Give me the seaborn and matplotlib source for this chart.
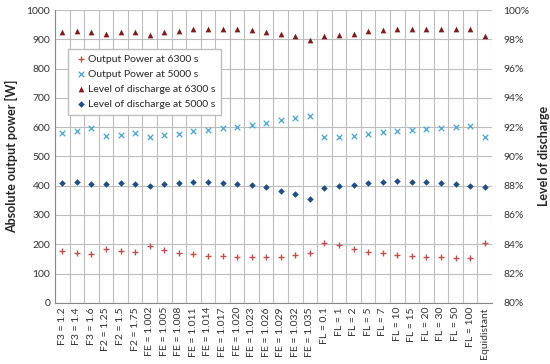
import numpy as np
import pandas as pd
import matplotlib
matplotlib.use("Agg")
import matplotlib.pyplot as plt
import seaborn as sns
from matplotlib.ticker import FixedLocator, FuncFormatter

# categories along the x axis
categories = ["F3 = 1.2", "F3 = 1.4", "F3 = 1.6", "F2 = 1.25", "F2 = 1.5", "F2 = 1.75",
              "FE = 1.002", "FE = 1.005", "FE = 1.008", "FE = 1.011", "FE = 1.014", "FE = 1.017",
              "FE = 1.020", "FE = 1.023", "FE = 1.026", "FE = 1.029", "FE = 1.032", "FE = 1.035",
              "FL = 0.1", "FL = 1", "FL = 2", "FL = 5", "FL = 7", "FL = 10", "FL = 15",
              "FL = 20", "FL = 30", "FL = 50", "FL = 100", "Equidistant"]

# absolute output power [W]
power_6300 = [176, 169, 166, 185, 178, 174, 195, 180, 171, 166, 160, 160, 158, 155, 155,
              158, 163, 169, 205, 196, 185, 174, 169, 163, 161, 158, 155, 152, 153, 205]
power_5000 = [580, 588, 596, 571, 573, 581, 565, 573, 578, 586, 589, 598, 602, 607, 615,
              623, 630, 638, 565, 565, 570, 577, 582, 588, 591, 592, 597, 601, 605, 565]

# level of discharge [%]
lod_6300 = [98.47, 98.59, 98.52, 98.38, 98.47, 98.50, 98.29, 98.47, 98.59, 98.70, 98.70,
            98.70, 98.70, 98.66, 98.50, 98.34, 98.20, 97.95, 98.20, 98.29, 98.38, 98.60,
            98.66, 98.70, 98.72, 98.72, 98.72, 98.72, 98.70, 98.22]
lod_5000 = [88.18, 88.24, 88.13, 88.10, 88.20, 88.15, 87.97, 88.10, 88.20, 88.27, 88.27,
            88.20, 88.15, 88.04, 87.88, 87.65, 87.42, 87.10, 87.86, 87.97, 88.06, 88.18,
            88.22, 88.29, 88.24, 88.22, 88.18, 88.10, 88.01, 87.88]

df = pd.DataFrame({"cat": categories, "p6300": power_6300, "p5000": power_5000,
                   "l6300": lod_6300, "l5000": lod_5000})

sns.set_style("white")
plt.rcParams["font.family"] = ["Lato", "DejaVu Sans"]

fig = plt.figure(figsize=(5.5, 3.64), dpi=100)
ax = fig.add_axes([0.1, 0.168, 0.7945, 0.8045])
ax2 = ax.twinx()

sns.scatterplot(data=df, x="cat", y="p6300", ax=ax, marker="+", color="#C0504D",
                s=24, linewidth=1.0, label="Output Power at 6300 s", legend=False, zorder=3)
sns.scatterplot(data=df, x="cat", y="p5000", ax=ax, marker="x", color="#4BA3D6",
                s=16, linewidth=0.9, label="Output Power at 5000 s", legend=False, zorder=3)
sns.scatterplot(data=df, x="cat", y="l6300", ax=ax2, marker="^", color="#7F1D1D",
                s=17, linewidth=0, label="Level of discharge at 6300 s", legend=False, zorder=3)
sns.scatterplot(data=df, x="cat", y="l5000", ax=ax2, marker="D", color="#1F4E85",
                s=11, linewidth=0, label="Level of discharge at 5000 s", legend=False, zorder=3)

n = len(categories)
ax.set_xlim(-0.5, n - 0.5)
ax.set_ylim(0, 1000)
ax.set_yticks(np.arange(0, 1001, 100))
ax2.set_ylim(80, 100)
ax2.set_yticks(np.arange(80, 101, 2))
ax2.yaxis.set_major_formatter(FuncFormatter(lambda v, p: f"{v:.0f}%"))

ax.set_xticks(range(n))
ax.set_xticklabels(categories, rotation=90, fontsize=7.3)
ax.xaxis.set_minor_locator(FixedLocator(np.arange(-0.5, n, 1.0)))
ax.grid(True, which="minor", axis="x", color="#BDBDBD", linewidth=0.8)
ax.grid(True, which="major", axis="y", color="#BDBDBD", linewidth=0.8)
ax.set_axisbelow(True)
ax.tick_params(axis="both", which="both", length=0, labelsize=7.5, colors="#333333")
ax.tick_params(axis="x", pad=3)
ax2.tick_params(axis="y", length=0, labelsize=7.5, colors="#333333", pad=8)

for a in (ax, ax2):
    for side in ("top", "right", "left", "bottom"):
        a.spines[side].set_visible(False)
ax.spines["left"].set_visible(True)
ax.spines["bottom"].set_visible(True)
ax.spines["left"].set_color("#888888")
ax.spines["bottom"].set_color("#888888")

ax.set_xlabel("")
ax.set_ylabel("Absolute output power [W]", fontsize=9, fontweight="bold", labelpad=6)
ax2.set_ylabel("Level of discharge", fontsize=9, fontweight="bold", rotation=90, labelpad=6)

h1, l1 = ax.get_legend_handles_labels()
h2, l2 = ax2.get_legend_handles_labels()
leg = ax2.legend(h1 + h2, l1 + l2, loc="upper left", bbox_to_anchor=(0.018, 0.886),
                 fontsize=7.5, frameon=True, fancybox=False, edgecolor="#BDBDBD",
                 framealpha=1, borderpad=0.6, handletextpad=0.1, labelspacing=0.55,
                 handlelength=1.2)
leg.set_zorder(10)

fig.savefig("out.png", dpi=100)
